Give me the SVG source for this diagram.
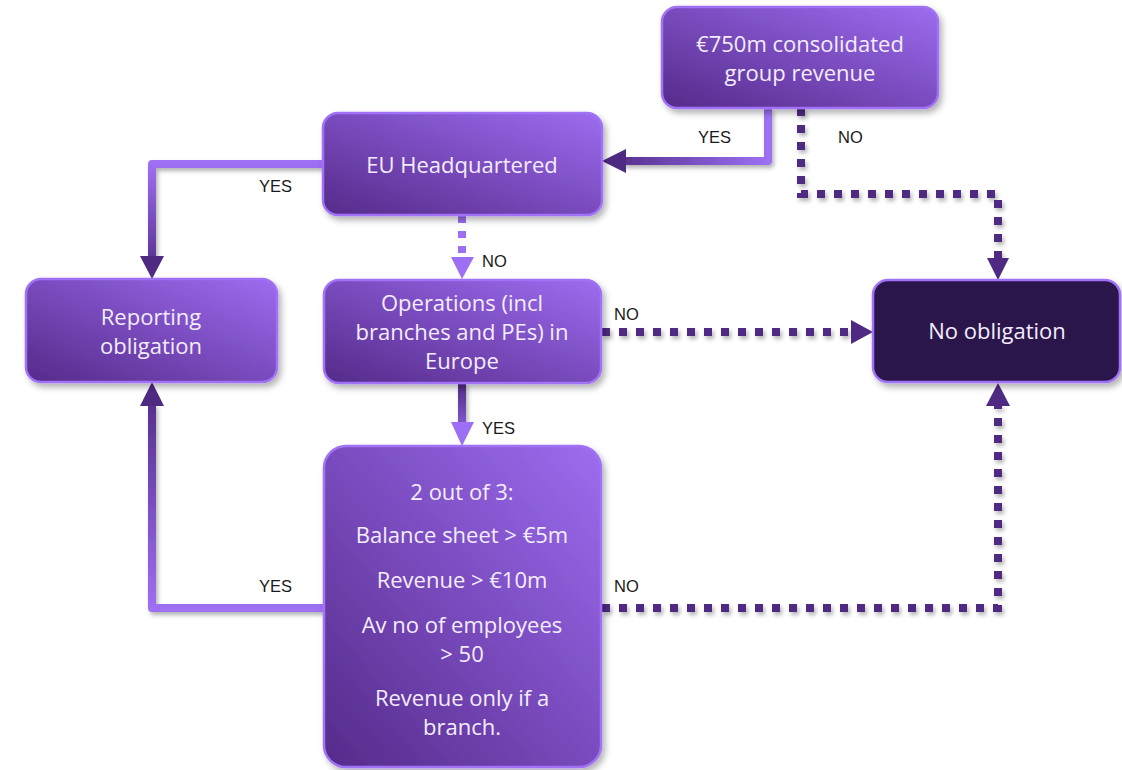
<svg xmlns="http://www.w3.org/2000/svg" width="1122" height="770" viewBox="0 0 1122 770">
<defs>
<linearGradient id="boxg" x1="0" y1="1" x2="1" y2="0">
<stop offset="0" stop-color="#552a8a"/>
<stop offset="1" stop-color="#9d6cf0"/>
</linearGradient>
<linearGradient id="g1" gradientUnits="userSpaceOnUse" x1="768" y1="0" x2="602" y2="0">
<stop offset="0" stop-color="#9d6ff4"/>
<stop offset="1" stop-color="#4f2a83"/>
</linearGradient>
<linearGradient id="g2" gradientUnits="userSpaceOnUse" x1="0" y1="164" x2="0" y2="279">
<stop offset="0" stop-color="#9d6ff4"/>
<stop offset="1" stop-color="#4f2a83"/>
</linearGradient>
<linearGradient id="g3" gradientUnits="userSpaceOnUse" x1="0" y1="608" x2="0" y2="382">
<stop offset="0" stop-color="#9d6ff4"/>
<stop offset="1" stop-color="#4f2a83"/>
</linearGradient>
<linearGradient id="g4" gradientUnits="userSpaceOnUse" x1="0" y1="383" x2="0" y2="446">
<stop offset="0" stop-color="#4f2a83"/>
<stop offset="1" stop-color="#9d6ff4"/>
</linearGradient>
<filter id="sh" x="-10%" y="-10%" width="125%" height="130%">
<feDropShadow dx="3" dy="4" stdDeviation="3" flood-color="#000" flood-opacity="0.3"/>
</filter>
<filter id="lsh" filterUnits="userSpaceOnUse" x="0" y="0" width="1122" height="770">
<feDropShadow dx="2" dy="3" stdDeviation="2" flood-color="#000" flood-opacity="0.3"/>
</filter>
</defs>
<style>
.box{fill:url(#boxg);stroke:#a072f6;stroke-width:2.5;filter:url(#sh)}
.dark{fill:#2c164b;stroke:#a072f6;stroke-width:2.5;filter:url(#sh)}
.bt{font-family:"Open Sans",Lato,sans-serif;font-size:22px;fill:#f3edff;text-anchor:middle}
.lb{font-family:"Liberation Sans",Arial,sans-serif;font-size:16.5px;fill:#1a1a1a}
.dot{fill:none;stroke:#4f2a83;stroke-width:8;stroke-dasharray:8 9;filter:url(#lsh)}
.sol{fill:none;stroke-width:8;filter:url(#lsh)}
</style>
<g id="connectors">
<path class="sol" d="M768,108 V161 H622" stroke="url(#g1)" stroke-linejoin="round"/>
<polygon points="602,161 626,149 626,173" fill="#4f2a83"/>
<path class="sol" d="M323,164 H152 V258" stroke="url(#g2)" stroke-linejoin="round"/>
<polygon points="152,279 140,256 164,256" fill="#4f2a83"/>
<path class="sol" d="M324,608 H152 V404" stroke="url(#g3)" stroke-linejoin="round"/>
<polygon points="152,382 140,406 164,406" fill="#4f2a83"/>
<path class="sol" d="M462,383 V424" stroke="url(#g4)"/>
<polygon points="462,446 451,422 474,422" fill="#9d6ff4"/>
<path d="M462,216 V258" fill="none" stroke="#9d6ff4" stroke-width="8" stroke-dasharray="7 8"/>
<polygon points="462,279 451,257 474,257" fill="#9d6ff4"/>
<path class="dot" d="M801,108 V194 H998 V258"/>
<polygon points="998,280 987,258 1009,258" fill="#4f2a83"/>
<path class="dot" d="M602,332 H851"/>
<polygon points="873,332 851,320 851,344" fill="#4f2a83"/>
<path class="dot" d="M602,608 H998 V405"/>
<polygon points="998,383 986,406 1010,406" fill="#4f2a83"/>
<text class="lb" x="698" y="143">YES</text>
<text class="lb" x="838" y="143">NO</text>
<text class="lb" x="259" y="192">YES</text>
<text class="lb" x="482" y="267">NO</text>
<text class="lb" x="614" y="320">NO</text>
<text class="lb" x="482" y="434">YES</text>
<text class="lb" x="259" y="592">YES</text>
<text class="lb" x="614" y="592">NO</text>
</g>
<g id="n-revenue">
<rect class="box" x="662" y="7" width="276" height="101" rx="15"/>
<text class="bt" x="800" y="52">€750m consolidated</text>
<text class="bt" x="800" y="81">group revenue</text>
</g>
<g id="n-euhq">
<rect class="box" x="323" y="113" width="279" height="102" rx="15"/>
<text class="bt" x="462" y="173">EU Headquartered</text>
</g>
<g id="n-reporting">
<rect class="box" x="26" y="279" width="251" height="103" rx="15"/>
<text class="bt" x="151" y="325">Reporting</text>
<text class="bt" x="151" y="354">obligation</text>
</g>
<g id="n-operations">
<rect class="box" x="324" y="280" width="277" height="103" rx="15"/>
<text class="bt" x="462" y="311">Operations (incl</text>
<text class="bt" x="462" y="340">branches and PEs) in</text>
<text class="bt" x="462" y="369">Europe</text>
</g>
<g id="n-noobligation">
<rect class="dark" x="873" y="280" width="247" height="102" rx="15"/>
<text class="bt" x="997" y="339">No obligation</text>
</g>
<g id="n-criteria">
<rect class="box" x="324" y="446" width="277" height="321" rx="22"/>
<text class="bt" x="462" y="500">2 out of 3:</text>
<text class="bt" x="462" y="543">Balance sheet &gt; €5m</text>
<text class="bt" x="462" y="588">Revenue &gt; €10m</text>
<text class="bt" x="462" y="633">Av no of employees</text>
<text class="bt" x="462" y="662">&gt; 50</text>
<text class="bt" x="462" y="706">Revenue only if a</text>
<text class="bt" x="462" y="735">branch.</text>
</g>
</svg>
